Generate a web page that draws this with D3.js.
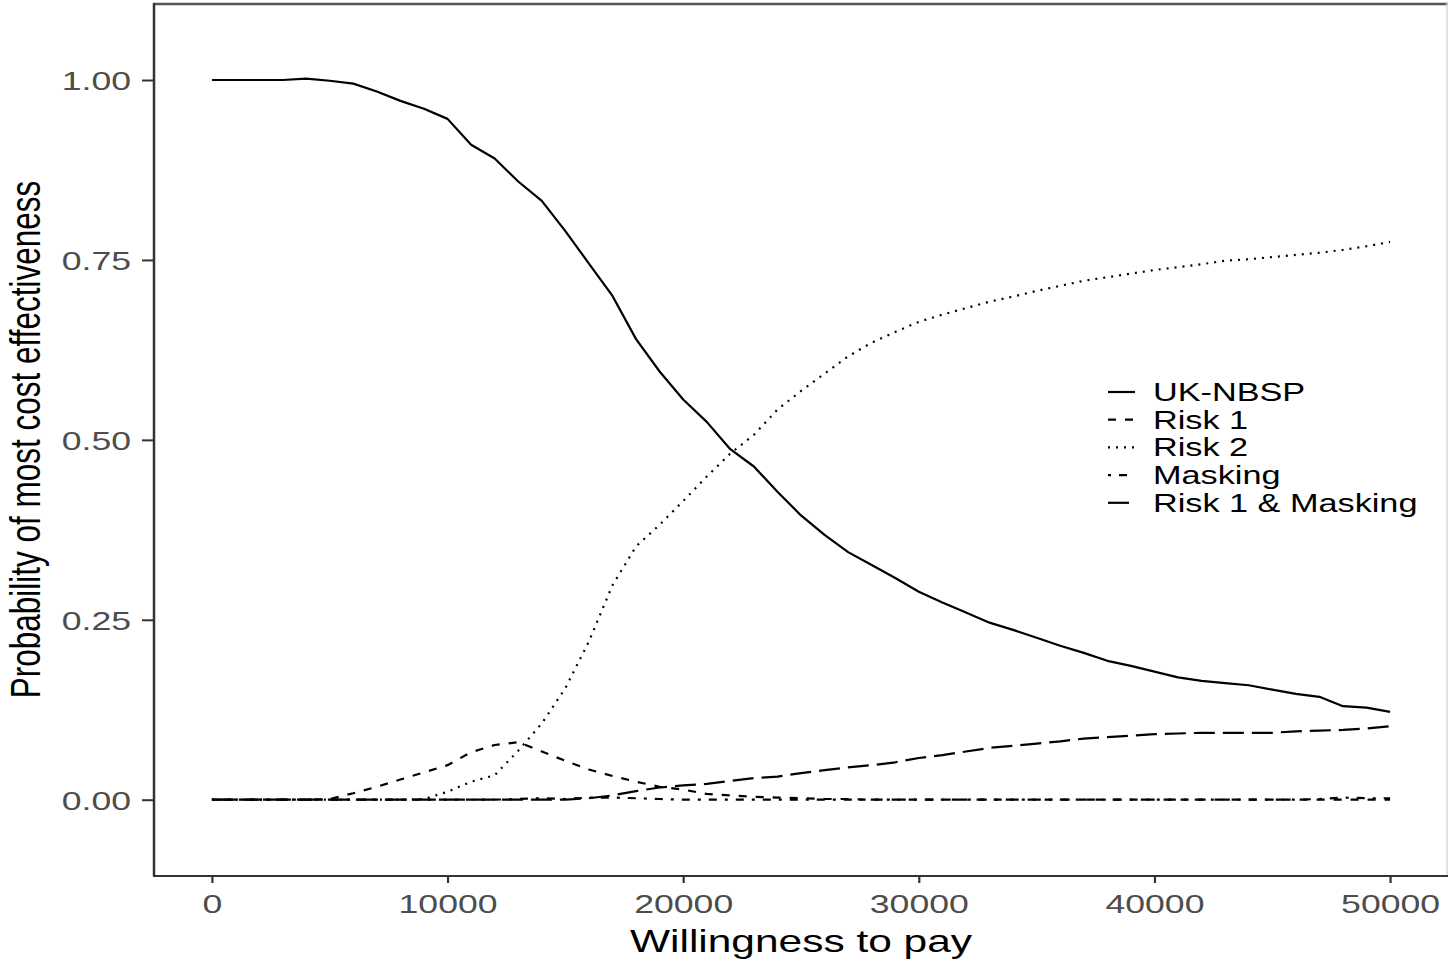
<!DOCTYPE html>
<html>
<head>
<meta charset="utf-8">
<script src="https://cdn.jsdelivr.net/npm/d3@7"></script>
<style>
  html, body { margin: 0; padding: 0; background: #ffffff; }
  svg { display: block; font-family: "Liberation Sans", Arial, sans-serif; }
</style>
</head>
<body>
<svg id="chart" width="1448" height="960"></svg>
<script>
// Willingness-to-pay grid (x values)
const wtp = [0, 1000, 2000, 3000, 4000, 5000, 6000, 7000, 8000, 9000,
  10000, 11000, 12000, 13000, 14000, 15000, 16000, 17000, 18000, 19000,
  20000, 21000, 22000, 23000, 24000, 25000, 26000, 27000, 28000, 29000,
  30000, 31000, 32000, 33000, 34000, 35000, 36000, 37000, 38000, 39000,
  40000, 41000, 42000, 43000, 44000, 45000, 46000, 47000, 48000, 49000, 50000];

// Probability of each strategy being most cost effective
const ukNbsp = [1.000, 1.000, 1.000, 1.000, 1.002, 0.999, 0.995, 0.984, 0.971, 0.960,
  0.946, 0.910, 0.891, 0.859, 0.832, 0.790, 0.745, 0.700, 0.640, 0.595,
  0.556, 0.525, 0.487, 0.463, 0.428, 0.395, 0.368, 0.344, 0.326, 0.308,
  0.289, 0.274, 0.260, 0.246, 0.236, 0.225, 0.214, 0.204, 0.193, 0.186,
  0.178, 0.170, 0.165, 0.162, 0.159, 0.153, 0.147, 0.143, 0.130, 0.128, 0.122];

const risk1 = [0, 0, 0, 0, 0, 0.001, 0.009, 0.018, 0.028, 0.038,
  0.048, 0.066, 0.076, 0.080, 0.067, 0.054, 0.042, 0.033, 0.025, 0.018,
  0.014, 0.008, 0.006, 0.004, 0.003, 0.002, 0.001, 0.001, 0, 0,
  0, 0, 0, 0, 0, 0, 0, 0, 0, 0,
  0, 0, 0, 0, 0, 0, 0, 0, 0, 0, 0];

const risk2 = [0, 0, 0, 0, 0, 0, 0, 0, 0, 0.001,
  0.011, 0.025, 0.034, 0.068, 0.106, 0.155, 0.220, 0.298, 0.352, 0.382,
  0.415, 0.449, 0.481, 0.507, 0.542, 0.568, 0.592, 0.616, 0.635, 0.650,
  0.664, 0.674, 0.683, 0.692, 0.699, 0.707, 0.714, 0.721, 0.726, 0.731,
  0.736, 0.740, 0.744, 0.749, 0.751, 0.754, 0.757, 0.760, 0.764, 0.769, 0.775];

const masking = [0, 0, 0, 0, 0, 0, 0, 0, 0, 0,
  0, 0, 0, 0.001, 0.002, 0.001, 0.003, 0.003, 0.002, 0.001,
  0, 0, 0, 0, 0, 0, 0, 0, 0, 0,
  0, 0, 0, 0, 0, 0, 0, 0, 0, 0,
  0, 0, 0, 0, 0, 0, 0, 0.001, 0.003, 0.002, 0.002];

const risk1Masking = [0, 0, 0, 0, 0, 0, 0, 0, 0, 0,
  0, 0, 0, 0, 0, 0, 0.002, 0.006, 0.012, 0.017,
  0.020, 0.022, 0.026, 0.030, 0.032, 0.037, 0.041, 0.045, 0.048, 0.052,
  0.058, 0.062, 0.067, 0.072, 0.075, 0.078, 0.081, 0.085, 0.087, 0.089,
  0.091, 0.092, 0.093, 0.093, 0.093, 0.093, 0.095, 0.096, 0.097, 0.099, 0.102];

const seriesNames = ["UK-NBSP", "Risk 1", "Risk 2", "Masking", "Risk 1 & Masking"];
const seriesValues = [ukNbsp, risk1, risk2, masking, risk1Masking];
const dashes = [null, "8,9", "2,6", "3,8,8,8", "21,8"];

const xTicks = [0, 10000, 20000, 30000, 40000, 50000];
const yTicks = [0, 0.25, 0.5, 0.75, 1];

const xTitle = "Willingness to pay";
const yTitle = "Probability of most cost effectiveness";

// Layout
const panel = { left: 153, right: 1449, top: 3, bottom: 876 };
const stretch = 1.37;          // horizontal glyph stretch of all text
const tickColor = "#333333";
const labelColor = "#4d4d4d";

const svg = d3.select("#chart");

// scales (5% expansion around the data range)
const x = d3.scaleLinear()
  .domain([-2500, 52500])
  .range([panel.left, panel.right]);
const y = d3.scaleLinear()
  .domain([-0.106, 1.107])
  .range([panel.bottom, panel.top]);

// white plot background
svg.append("rect")
  .attr("x", 0).attr("y", 0).attr("width", 1448).attr("height", 960)
  .attr("fill", "#ffffff");

// panel border
svg.append("line")
  .attr("x1", panel.left).attr("x2", panel.right)
  .attr("y1", panel.top + 1).attr("y2", panel.top + 1)
  .attr("stroke", "#555555").attr("stroke-width", 2.5);
svg.append("line")
  .attr("x1", panel.right - 2).attr("x2", panel.right - 2)
  .attr("y1", panel.top).attr("y2", panel.bottom)
  .attr("stroke", "#d9d9d9").attr("stroke-width", 1.5);
svg.append("line")
  .attr("x1", panel.left).attr("x2", panel.right)
  .attr("y1", panel.bottom).attr("y2", panel.bottom)
  .attr("stroke", tickColor).attr("stroke-width", 2);
svg.append("line")
  .attr("x1", panel.left + 1).attr("x2", panel.left + 1)
  .attr("y1", panel.top).attr("y2", panel.bottom)
  .attr("stroke", tickColor).attr("stroke-width", 2.5);

// x axis
const xAxis = svg.append("g")
  .attr("transform", `translate(0,${panel.bottom})`)
  .call(d3.axisBottom(x).tickValues(xTicks).tickFormat(d3.format("d"))
    .tickSizeOuter(0).tickSizeInner(7).tickPadding(0));
xAxis.select(".domain").remove();
xAxis.selectAll(".tick line").attr("stroke", tickColor).attr("stroke-width", 2.2);
xAxis.selectAll(".tick text")
  .attr("font-family", "Liberation Sans, Arial, sans-serif")
  .attr("font-size", 26)
  .attr("fill", labelColor)
  .attr("y", null).attr("dy", null)
  .attr("text-anchor", "middle")
  .attr("transform", `translate(0,37) scale(${stretch},1)`);

// y axis
const yAxis = svg.append("g")
  .attr("transform", `translate(${panel.left},0)`)
  .call(d3.axisLeft(y).tickValues(yTicks).tickFormat(d3.format(".2f"))
    .tickSizeOuter(0).tickSizeInner(11).tickPadding(0));
yAxis.select(".domain").remove();
yAxis.selectAll(".tick line").attr("stroke", tickColor).attr("stroke-width", 2);
yAxis.selectAll(".tick text")
  .attr("font-family", "Liberation Sans, Arial, sans-serif")
  .attr("font-size", 26)
  .attr("fill", labelColor)
  .attr("x", null).attr("dy", "0.36em")
  .attr("text-anchor", "end")
  .attr("transform", `translate(-22,0) scale(${stretch},1)`);

// series lines
const line = d3.line()
  .x((d, i) => x(wtp[i]))
  .y(d => y(d));

const linesG = svg.append("g");
seriesValues.forEach((vals, k) => {
  linesG.append("path")
    .datum(vals)
    .attr("d", line)
    .attr("fill", "none")
    .attr("stroke", "#000000")
    .attr("stroke-width", 2.2)
    .attr("stroke-linejoin", "round")
    .attr("stroke-dasharray", dashes[k]);
});

// axis titles
svg.append("text")
  .attr("transform", `translate(${(panel.left + panel.right) / 2},952) scale(${stretch},1)`)
  .attr("text-anchor", "middle")
  .attr("font-size", 31)
  .attr("fill", "#000000")
  .text(xTitle);

svg.append("text")
  .attr("transform", `translate(40,${(panel.top + panel.bottom) / 2}) scale(${stretch},1) rotate(-90)`)
  .attr("text-anchor", "middle")
  .attr("font-size", 31.5)
  .attr("fill", "#000000")
  .text(yTitle);

// legend
const legend = svg.append("g").attr("transform", "translate(1108,392)");
const rowGap = 27.7;
seriesNames.forEach((name, k) => {
  const row = legend.append("g").attr("transform", `translate(0,${k * rowGap})`);
  row.append("line")
    .attr("x1", 0).attr("x2", 27).attr("y1", 0).attr("y2", 0)
    .attr("stroke", "#000000").attr("stroke-width", 2.2)
    .attr("stroke-dasharray", dashes[k]);
  row.append("text")
    .attr("transform", `translate(45,9) scale(${stretch},1)`)
    .attr("font-size", 25)
    .attr("fill", "#000000")
    .text(name);
});
</script>
</body>
</html>
